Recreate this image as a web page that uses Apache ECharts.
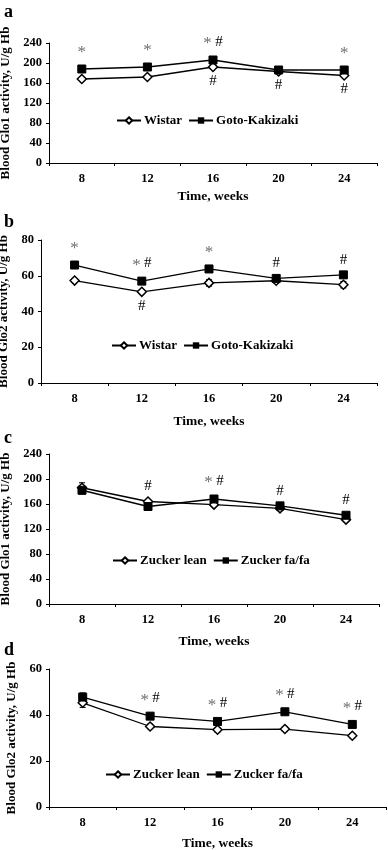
<!DOCTYPE html>
<html>
<head>
<meta charset="utf-8">
<script src="https://cdn.jsdelivr.net/npm/echarts@6/dist/echarts.min.js"></script>
<style>
  html, body { margin: 0; padding: 0; background: #fff; }
  #chart { width: 388px; height: 850px; }
</style>
</head>
<body>
<div id="chart"></div>
<script>
const chart = echarts.init(document.getElementById("chart"));

const weeks = ["8", "12", "16", "20", "24"];

// panel a: Glo1, Wistar vs Goto-Kakizaki
const wistarGlo1 = [168, 172, 192, 183, 175];
const wistarGlo1Err = [2, 2, 3, 3, 3];
const gkGlo1 = [188, 192, 206, 186, 186];
const gkGlo1Err = [3, 3, 3, 3, 3];
const wistarGlo1Marks = ["", "", "#", "#", "#"];
const gkGlo1Marks = ["*", "*", "* #", "", "*"];

// panel b: Glo2, Wistar vs Goto-Kakizaki
const wistarGlo2 = [57.3, 51, 56, 57.2, 55];
const wistarGlo2Err = [1, 1, 1.8, 1.3, 1.8];
const gkGlo2 = [66, 57, 63.8, 58.5, 60.5];
const gkGlo2Err = [1, 1, 1, 1, 1];
const wistarGlo2Marks = ["", "#", "", "", ""];
const gkGlo2Marks = ["*", "* #", "*", "#", "#"];

// panel c: Glo1, Zucker lean vs fa/fa
const leanGlo1 = [186, 164, 159, 153, 135];
const leanGlo1Err = [8, 3, 3, 3, 3];
const faGlo1 = [182, 156, 168, 157, 142];
const faGlo1Err = [6, 3, 3, 3, 3];
const leanGlo1Marks = ["", "#", "", "", ""];
const faGlo1Marks = ["", "", "* #", "#", "#"];

// panel d: Glo2, Zucker lean vs fa/fa
const leanGlo2 = [45.3, 35, 33.6, 33.9, 31];
const leanGlo2Err = [2, 1, 1, 1, 1];
const faGlo2 = [47.8, 39.5, 37.2, 41.4, 35.9];
const faGlo2Err = [1.8, 1, 1, 1, 1];
const leanGlo2Marks = ["", "", "", "", ""];
const faGlo2Marks = ["", "* #", "* #", "* #", "* #"];

const FONT = "Liberation Serif";

const panels = [
  { letter: "a", letterTop: 3, yName: "Blood Glo1 activity, U/g Hb", max: 240, step: 40,
    grid: { left: 49, right: 11, top: 43, height: 120 }, nameGap: 32, xGap: 27,
    legendPos: { left: 116, top: 114 },
    names: ["Wistar", "Goto-Kakizaki"],
    a: wistarGlo1, aErr: wistarGlo1Err, aMarks: wistarGlo1Marks, aPos: "bottom",
    b: gkGlo1, bErr: gkGlo1Err, bMarks: gkGlo1Marks },
  { letter: "b", letterTop: 213, yName: "Blood Glo2 activity, U/g Hb", max: 80, step: 20,
    grid: { left: 41, right: 11, top: 240, height: 143 }, nameGap: 25, xGap: 32,
    legendPos: { left: 111, top: 339 },
    names: ["Wistar", "Goto-Kakizaki"],
    a: wistarGlo2, aErr: wistarGlo2Err, aMarks: wistarGlo2Marks, aPos: "bottom",
    b: gkGlo2, bErr: gkGlo2Err, bMarks: gkGlo2Marks },
  { letter: "c", letterTop: 429, yName: "Blood Glo1 activity, U/g Hb", max: 240, step: 40,
    grid: { left: 49, right: 9, top: 454, height: 150 }, nameGap: 33, xGap: 31,
    legendPos: { left: 112, top: 554 },
    names: ["Zucker lean", "Zucker fa/fa"],
    a: leanGlo1, aErr: leanGlo1Err, aMarks: leanGlo1Marks, aPos: "top",
    b: faGlo1, bErr: faGlo1Err, bMarks: faGlo1Marks },
  { letter: "d", letterTop: 641, yName: "Blood Glo2 activity, U/g Hb", max: 60, step: 20,
    grid: { left: 49, right: 2, top: 669, height: 138 }, nameGap: 31, xGap: 30,
    legendPos: { left: 105, top: 768 },
    names: ["Zucker lean", "Zucker fa/fa"],
    a: leanGlo2, aErr: leanGlo2Err, aMarks: leanGlo2Marks, aPos: "top",
    b: faGlo2, bErr: faGlo2Err, bMarks: faGlo2Marks }
];

const textBase = { fontFamily: FONT, fontWeight: "bold", color: "#000" };

function markText(s) {
  return s.replace("*", "{s|*}").replace("#", "{h|#}");
}

function lineData(values, marks, pos) {
  return values.map((v, i) => ({
    value: v,
    label: {
      show: marks[i] !== "",
      position: pos,
      distance: pos === "top" ? 3 : 1,
      formatter: markText(marks[i]),
      rich: {
        s: { fontFamily: FONT, fontSize: 17, color: "#707070", padding: [4, 0, 0, 0] },
        h: { fontFamily: FONT, fontSize: 15, color: "#000" }
      }
    }
  }));
}

function errorSeries(idx, values, errs) {
  return {
    type: "custom",
    xAxisIndex: idx,
    yAxisIndex: idx,
    z: 1,
    silent: true,
    data: values.map((v, i) => [i, v, errs[i]]),
    encode: { x: 0, y: 1 },
    renderItem: function (params, api) {
      const i = api.value(0);
      const top = api.coord([i, api.value(1) + api.value(2)]);
      const bot = api.coord([i, api.value(1) - api.value(2)]);
      const w = 3;
      const st = { stroke: "#000", lineWidth: 1 };
      return {
        type: "group",
        children: [
          { type: "line", shape: { x1: top[0], y1: top[1], x2: bot[0], y2: bot[1] }, style: st },
          { type: "line", shape: { x1: top[0] - w, y1: top[1], x2: top[0] + w, y2: top[1] }, style: st },
          { type: "line", shape: { x1: bot[0] - w, y1: bot[1], x2: bot[0] + w, y2: bot[1] }, style: st }
        ]
      };
    }
  };
}

const option = {
  backgroundColor: "#fff",
  animation: false,
  title: panels.map(p => ({
    text: p.letter,
    left: 4,
    top: p.letterTop,
    padding: 0,
    textStyle: Object.assign({}, textBase, { fontSize: 18 })
  })),
  grid: panels.map(p => Object.assign({ outerBoundsMode: "none", containLabel: false }, p.grid)),
  legend: panels.map(p => ({
    data: p.names.map(n => ({ name: n })),
    left: p.legendPos.left,
    top: p.legendPos.top,
    padding: 0,
    itemWidth: 24,
    itemHeight: 8,
    itemGap: 6,
    selectedMode: false,
    textStyle: Object.assign({}, textBase, { fontSize: 13, padding: [0, 0, 0, -2] })
  })),
  xAxis: panels.map((p, i) => ({
    type: "category",
    gridIndex: i,
    data: weeks,
    boundaryGap: true,
    name: "Time, weeks",
    nameLocation: "middle",
    nameGap: p.xGap,
    nameTextStyle: Object.assign({}, textBase, { fontSize: 13.5 }),
    axisLine: { lineStyle: { color: "#000", width: 1 } },
    axisTick: { show: true, length: 3, lineStyle: { color: "#000" } },
    axisLabel: Object.assign({}, textBase, { fontSize: 12.5, margin: 9 }),
    splitLine: { show: false }
  })),
  yAxis: panels.map((p, i) => ({
    type: "value",
    gridIndex: i,
    min: 0,
    max: p.max,
    interval: p.step,
    name: p.yName,
    nameLocation: "middle",
    nameGap: p.nameGap,
    nameTextStyle: Object.assign({}, textBase, { fontSize: 13 }),
    axisLine: { show: true, lineStyle: { color: "#000", width: 1 } },
    axisTick: { show: true, length: 3, lineStyle: { color: "#000" } },
    axisLabel: Object.assign({}, textBase, { fontSize: 12.5, margin: 7 }),
    splitLine: { show: false }
  })),
  series: panels.flatMap((p, i) => [
    errorSeries(i, p.a, p.aErr),
    errorSeries(i, p.b, p.bErr),
    {
      name: p.names[0],
      type: "line",
      xAxisIndex: i,
      yAxisIndex: i,
      z: 3,
      symbol: "diamond",
      symbolSize: 9,
      itemStyle: { color: "#fff", borderColor: "#000", borderWidth: 1.5 },
      lineStyle: { color: "#000", width: 1.3 },
      data: lineData(p.a, p.aMarks, p.aPos)
    },
    {
      name: p.names[1],
      type: "line",
      xAxisIndex: i,
      yAxisIndex: i,
      z: 4,
      symbol: "rect",
      symbolSize: 8,
      itemStyle: { color: "#000", borderColor: "#000" },
      lineStyle: { color: "#000", width: 1.3 },
      data: lineData(p.b, p.bMarks, "top")
    }
  ])
};

chart.setOption(option);
window.onresize = chart.resize;
</script>
</body>
</html>
